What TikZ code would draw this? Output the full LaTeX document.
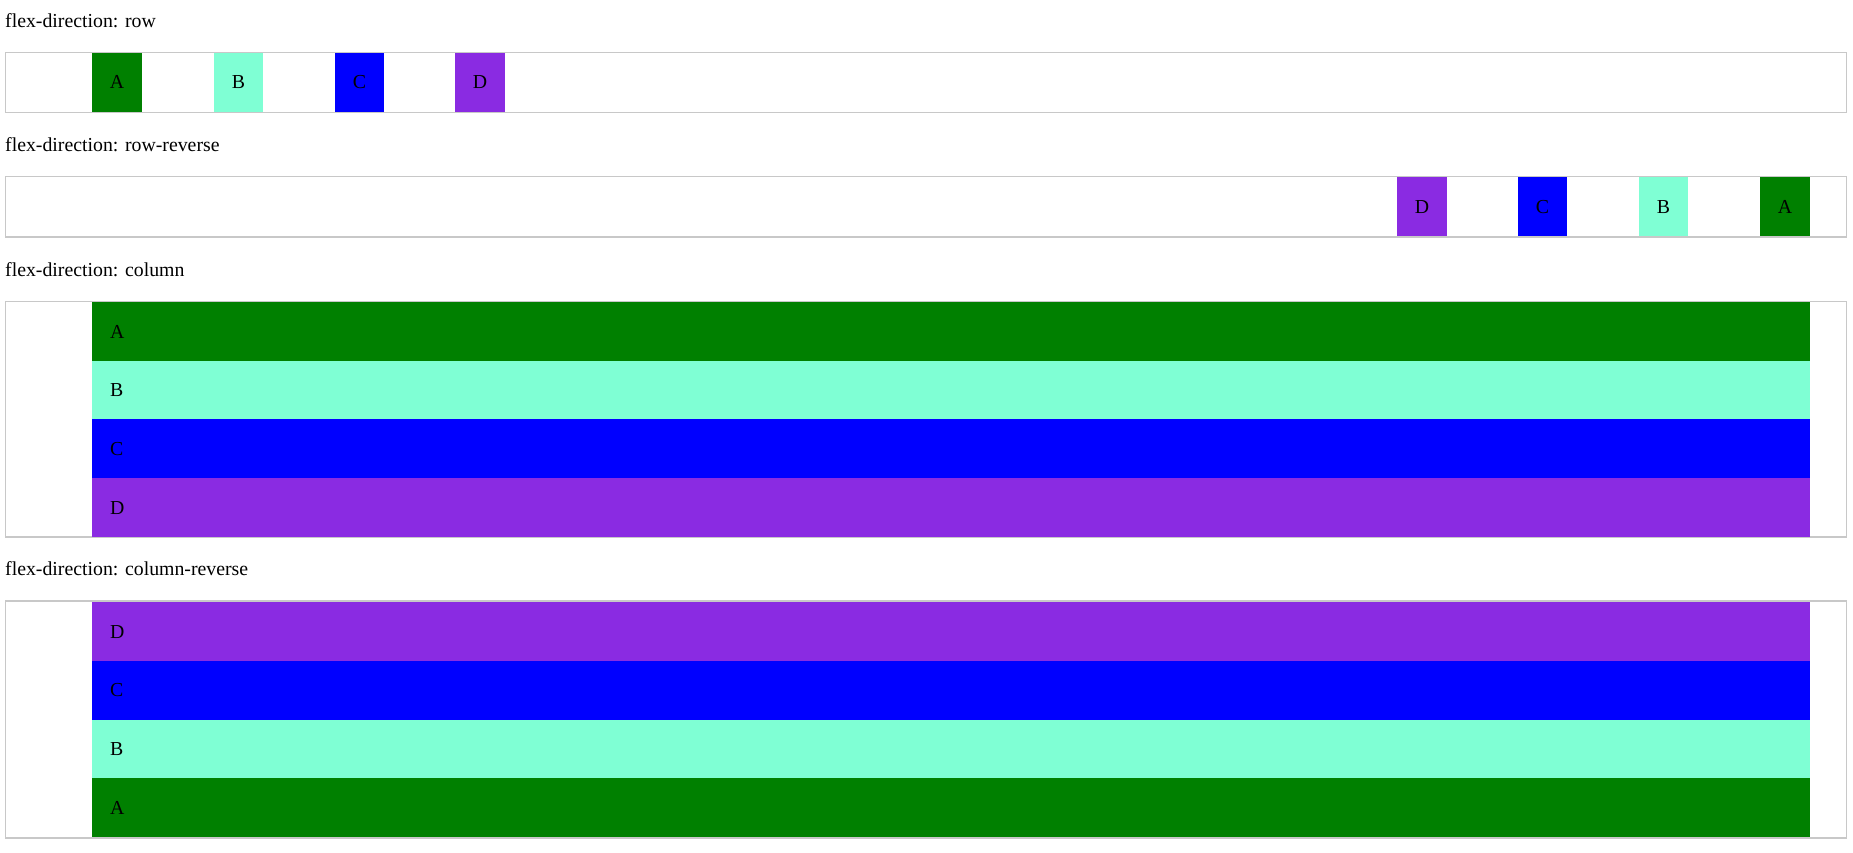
\documentclass[tikz,border=0pt]{standalone}
\usepackage{fontspec}
\setmainfont{Liberation Serif}
\definecolor{cgreen}{HTML}{008000}
\definecolor{caqua}{HTML}{7FFFD4}
\definecolor{cblue}{HTML}{0000FF}
\definecolor{cviolet}{HTML}{8A2BE2}
\definecolor{bordergray}{RGB}{200,200,200}
\begin{document}
\begin{tikzpicture}[x=1pt,y=-1pt,
  font=\fontsize{19.8}{23}\selectfont,
  container/.style={draw=bordergray, line width=1.2pt},
  heading/.style={anchor=base west, inner sep=0pt},
  rowitem/.style={draw=none, inner sep=0pt, minimum width=49.5pt, minimum height=59pt},
  colitem/.style={draw=none, inner sep=0pt, minimum width=1718pt, minimum height=58.7pt},
  coltext/.style={anchor=base west, inner sep=0pt, xshift=18pt, yshift=-6.8pt}]
\useasboundingbox (0,0) rectangle (1853,852);
\fill[white] (0,0) rectangle (1853,852);

% headings
\node[heading] (h1) at (5,27) {flex-direction: row};
\node[heading] (h2) at (5,151.5) {flex-direction: row-reverse};
\node[heading] (h3) at (5,276) {flex-direction: column};
\node[heading] (h4) at (5,575.5) {flex-direction: column-reverse};

% containers
\draw[container] (5.3,52.3) rectangle (1846.3,112.3);
\draw[container] (5.3,176.3) rectangle (1846.3,237);
\draw[container] (5.3,301.3) rectangle (1846.3,537);
\draw[container] (5.3,601) rectangle (1846.3,838);

% row
\node[rowitem, fill=cgreen]  (r1a) at (117,82.3) {A};
\node[rowitem, fill=caqua]   (r1b) at (238.5,82.3) {B};
\node[rowitem, fill=cblue]   (r1c) at (359.5,82.3) {C};
\node[rowitem, fill=cviolet] (r1d) at (480,82.3) {D};

% row-reverse
\node[rowitem, fill=cviolet] (r2d) at (1422,206.6) {D};
\node[rowitem, fill=cblue]   (r2c) at (1542.5,206.6) {C};
\node[rowitem, fill=caqua]   (r2b) at (1663.5,206.6) {B};
\node[rowitem, fill=cgreen]  (r2a) at (1785,206.6) {A};

% column
\node[colitem, fill=cgreen]  (c3a) at (951,331.35) {};
\node[colitem, fill=caqua]   (c3b) at (951,390.0) {};
\node[colitem, fill=cblue]   (c3c) at (951,448.65) {};
\node[colitem, fill=cviolet] (c3d) at (951,507.3) {};
\node[coltext] (t3a) at (c3a.west) {A};
\node[coltext] (t3b) at (c3b.west) {B};
\node[coltext] (t3c) at (c3c.west) {C};
\node[coltext] (t3d) at (c3d.west) {D};

% column-reverse
\node[colitem, fill=cviolet, minimum height=58.75pt] (c4d) at (951,631.375) {};
\node[colitem, fill=cblue,   minimum height=58.75pt] (c4c) at (951,690.125) {};
\node[colitem, fill=caqua,   minimum height=58.75pt] (c4b) at (951,748.875) {};
\node[colitem, fill=cgreen,  minimum height=58.75pt] (c4a) at (951,807.625) {};
\node[coltext] (t4d) at (c4d.west) {D};
\node[coltext] (t4c) at (c4c.west) {C};
\node[coltext] (t4b) at (c4b.west) {B};
\node[coltext] (t4a) at (c4a.west) {A};
\end{tikzpicture}
\end{document}
